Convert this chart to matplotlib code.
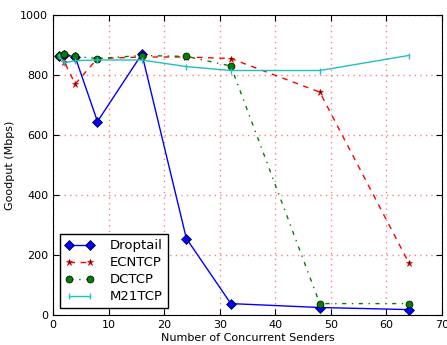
import matplotlib
matplotlib.use("Agg")
import matplotlib.pyplot as plt

senders = [1, 2, 4, 8, 16, 24, 32, 48, 64]
droptail = [865, 868, 860, 645, 870, 255, 38, 25, 18]
ecntcp = [865, 845, 770, 855, 860, 860, 855, 743, 175]
dctcp = [865, 870, 862, 855, 865, 862, 830, 38, 38]
m21tcp = [865, 840, 848, 850, 850, 828, 815, 815, 865]

plt.rcParams["xtick.direction"] = "in"
plt.rcParams["ytick.direction"] = "in"
plt.rcParams["xtick.top"] = True
plt.rcParams["ytick.right"] = True

fig = plt.figure(figsize=(4.47, 3.45), dpi=100)
ax = fig.add_axes([53 / 447, 30 / 345, 389 / 447, 300 / 345])

ax.plot(senders, droptail, "b-", marker="D", markersize=5, markeredgecolor="k",
        markeredgewidth=0.5, linewidth=1, label="Droptail")
ax.plot(senders, ecntcp, "r", linestyle=(0, (4, 4)), marker="*", markersize=5,
        markerfacecolor="k", markeredgecolor="r", markeredgewidth=0.5,
        linewidth=1, label="ECNTCP")
ax.plot(senders, dctcp, "g", linestyle=(0, (3, 4, 1, 4)), marker="o",
        markersize=5, markerfacecolor="g", markeredgecolor="k",
        markeredgewidth=0.5, linewidth=1, label="DCTCP")
ax.plot(senders, m21tcp, color="#20c0c0", marker="|", markersize=5,
        markeredgewidth=1, linewidth=1, label="M21TCP")

ax.set_xlim(0, 70)
ax.set_ylim(0, 1000)
ax.set_xticks(range(0, 71, 10))
ax.set_yticks(range(0, 1001, 200))
ax.grid(True, color="r", linestyle=(0, (1, 3)), linewidth=1, alpha=0.5)
ax.tick_params(labelsize=8, length=4)
ax.set_xlabel("Number of Concurrent Senders", fontsize=8, labelpad=2)
ax.set_ylabel("Goodput (Mbps)", fontsize=8)
leg = ax.legend(loc="lower left", fontsize=9.5, fancybox=False, framealpha=1,
                edgecolor="k", handlelength=2.2, numpoints=2,
                borderaxespad=0.5, labelspacing=0.3, handletextpad=1.2)
leg.get_frame().set_linewidth(1)

fig.savefig("out.png", dpi=100)
